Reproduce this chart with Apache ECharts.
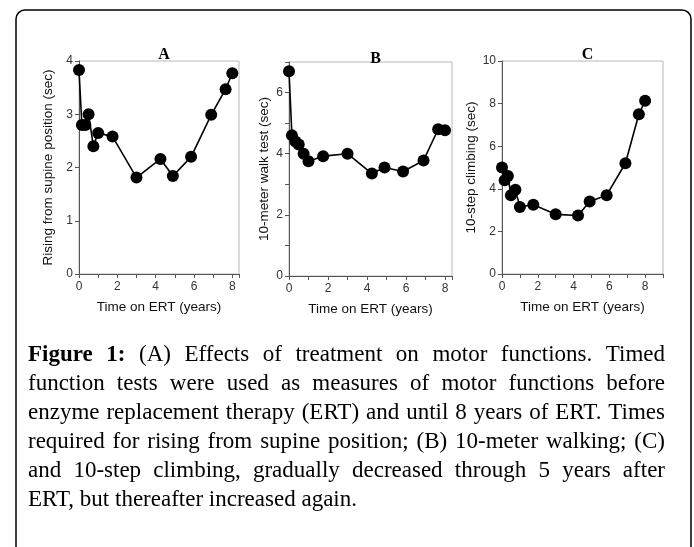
<!DOCTYPE html>
<html>
<head>
<meta charset="utf-8">
<script src="https://cdn.jsdelivr.net/npm/echarts@6/dist/echarts.min.js"></script>
<style>html,body{margin:0;padding:0;background:#fff}#c{width:694px;height:547px}</style>
</head>
<body>
<div id="c"></div>
<script>
// ---- data ----
const timeYears = [0, 0.15, 0.33, 0.5, 0.75, 1, 1.75, 3, 4.25, 4.9, 5.85, 6.9, 7.65, 8];
const risingA = [3.83, 2.8, 2.8, 3.0, 2.4, 2.65, 2.58, 1.81, 2.16, 1.84, 2.2, 2.99, 3.47, 3.77];
const walkB = [6.7, 4.6, 4.4, 4.3, 4.0, 3.75, 3.92, 4.0, 3.35, 3.55, 3.42, 3.78, 4.8, 4.77];
const climbC = [5.0, 4.4, 4.6, 3.7, 3.95, 3.15, 3.25, 2.8, 2.75, 3.4, 3.7, 5.2, 7.5, 8.13];
const panelTitles = ['A', 'B', 'C'];
const yNames = ['Rising from supine position (sec)', '10-meter walk test (sec)', '10-step climbing (sec)'];
const xName = 'Time on ERT (years)';
const captionLines = [
  'Figure 1: (A) Effects of treatment on motor functions. Timed',
  'function tests were used as measures of motor functions before',
  'enzyme replacement therapy (ERT) and until 8 years of ERT. Times',
  'required for rising from supine position; (B) 10-meter walking; (C)',
  'and 10-step climbing, gradually decreased through 5 years after',
  'ERT, but thereafter increased again.'
];

const chart = echarts.init(document.getElementById('c'));
const grids = [
  {left: 79, top: 61, width: 160, height: 213},
  {left: 289, top: 62, width: 163, height: 214},
  {left: 502, top: 61, width: 161, height: 213}
];
const xMax = [8.35, 8.36, 9];
const yMax = [4, 7, 10];
const yInt = [1, 1, 2];
const yLabelEvery = [1, 2, 1];
const yGap = [24, 18, 20];
const seriesVals = [risingA, walkB, climbC];
const axisColor = '#555';
const sans = 'Liberation Sans, Arial, sans-serif';
const labelStyle = {color: '#333', fontSize: 12, fontFamily: sans};

const xAxes = grids.map((g, i) => ({
  type: 'value', gridIndex: i, min: 0, max: xMax[i], interval: 1,
  name: xName, nameLocation: 'middle', nameGap: 26,
  nameTextStyle: {color: '#111', fontSize: 13.5, fontFamily: sans},
  axisLine: {show: true, lineStyle: {color: axisColor, width: 1}},
  axisTick: {show: true, length: 4, lineStyle: {color: axisColor}},
  axisLabel: Object.assign({margin: 7, showMaxLabel: true, formatter: v => (Math.abs(v % 2) < 1e-9 ? String(v) : '')}, labelStyle),
  splitLine: {show: false}
}));
const yAxes = grids.map((g, i) => ({
  type: 'value', gridIndex: i, min: 0, max: yMax[i], interval: yInt[i],
  name: yNames[i], nameLocation: 'middle', nameGap: yGap[i], nameRotate: 90,
  nameTextStyle: {color: '#111', fontSize: 13.5, fontFamily: sans},
  axisLine: {show: true, lineStyle: {color: axisColor, width: 1}},
  axisTick: {show: true, length: 4, lineStyle: {color: axisColor}},
  axisLabel: Object.assign({margin: 6, formatter: v => (Math.abs(v % (yInt[i] * yLabelEvery[i])) < 1e-9 ? String(v) : '')}, labelStyle),
  splitLine: {show: false}
}));
const series = seriesVals.map((vals, i) => ({
  type: 'line', xAxisIndex: i, yAxisIndex: i,
  data: timeYears.map((t, k) => [t, vals[k]]),
  symbol: 'circle', symbolSize: 12, showSymbol: true,
  itemStyle: {color: '#000'},
  lineStyle: {color: '#000', width: 1.6},
  animation: false
}));
const titles = panelTitles.map((t, i) => ({
  text: t, left: grids[i].left + grids[i].width / 2, top: [42, 46, 42][i], textAlign: 'center',
  textStyle: {fontFamily: 'Liberation Serif, Times New Roman, serif', fontWeight: 'bold', fontSize: 16, color: '#000'}
}));

// ---- caption (justified) ----
const capLeft = 28, capRight = 665, capTop = 355, capLH = 29;
const serif = '"Liberation Serif", "Times New Roman", serif';
const mctx = document.createElement('canvas').getContext('2d');
function measure(txt, size, bold) { mctx.font = (bold ? 'bold ' : '') + size + 'px ' + serif; return mctx.measureText(txt).width; }
// size so that the longest line fits with ordinary word spacing
const fontSize = Math.min(23, 20 * 632 / measure(captionLines[3], 20, false));
const captionEls = [];
captionLines.forEach((line, li) => {
  const words = line.split(' ');
  const bolds = words.map((w, wi) => li === 0 && wi < 2);
  const widths = words.map((w, wi) => measure(w, fontSize, bolds[wi]));
  const total = widths.reduce((a, b) => a + b, 0);
  const justify = li < captionLines.length - 1;
  const gap = justify ? (capRight - capLeft - total) / (words.length - 1) : measure(' ', fontSize, false);
  let x = capLeft;
  words.forEach((w, wi) => {
    captionEls.push({type: 'text', x: x, y: capTop + li * capLH, silent: true,
      style: {text: w, fill: '#000', font: (bolds[wi] ? 'bold ' : '') + fontSize.toFixed(2) + 'px ' + serif, textVerticalAlign: 'middle', textAlign: 'left'}});
    x += widths[wi] + gap;
  });
});

chart.setOption({
  animation: false,
  backgroundColor: '#fff',
  title: titles,
  grid: grids.map(g => Object.assign({show: true, borderColor: '#b8b8b8', borderWidth: 1, backgroundColor: 'transparent'}, g)),
  xAxis: xAxes,
  yAxis: yAxes,
  series: series,
  graphic: [
    {type: 'rect', shape: {x: 16, y: 10, width: 675, height: 560, r: 9}, style: {fill: 'none', stroke: '#000', lineWidth: 1.5}, silent: true, z: 100}
  ].concat(captionEls)
});
</script>
</body>
</html>
